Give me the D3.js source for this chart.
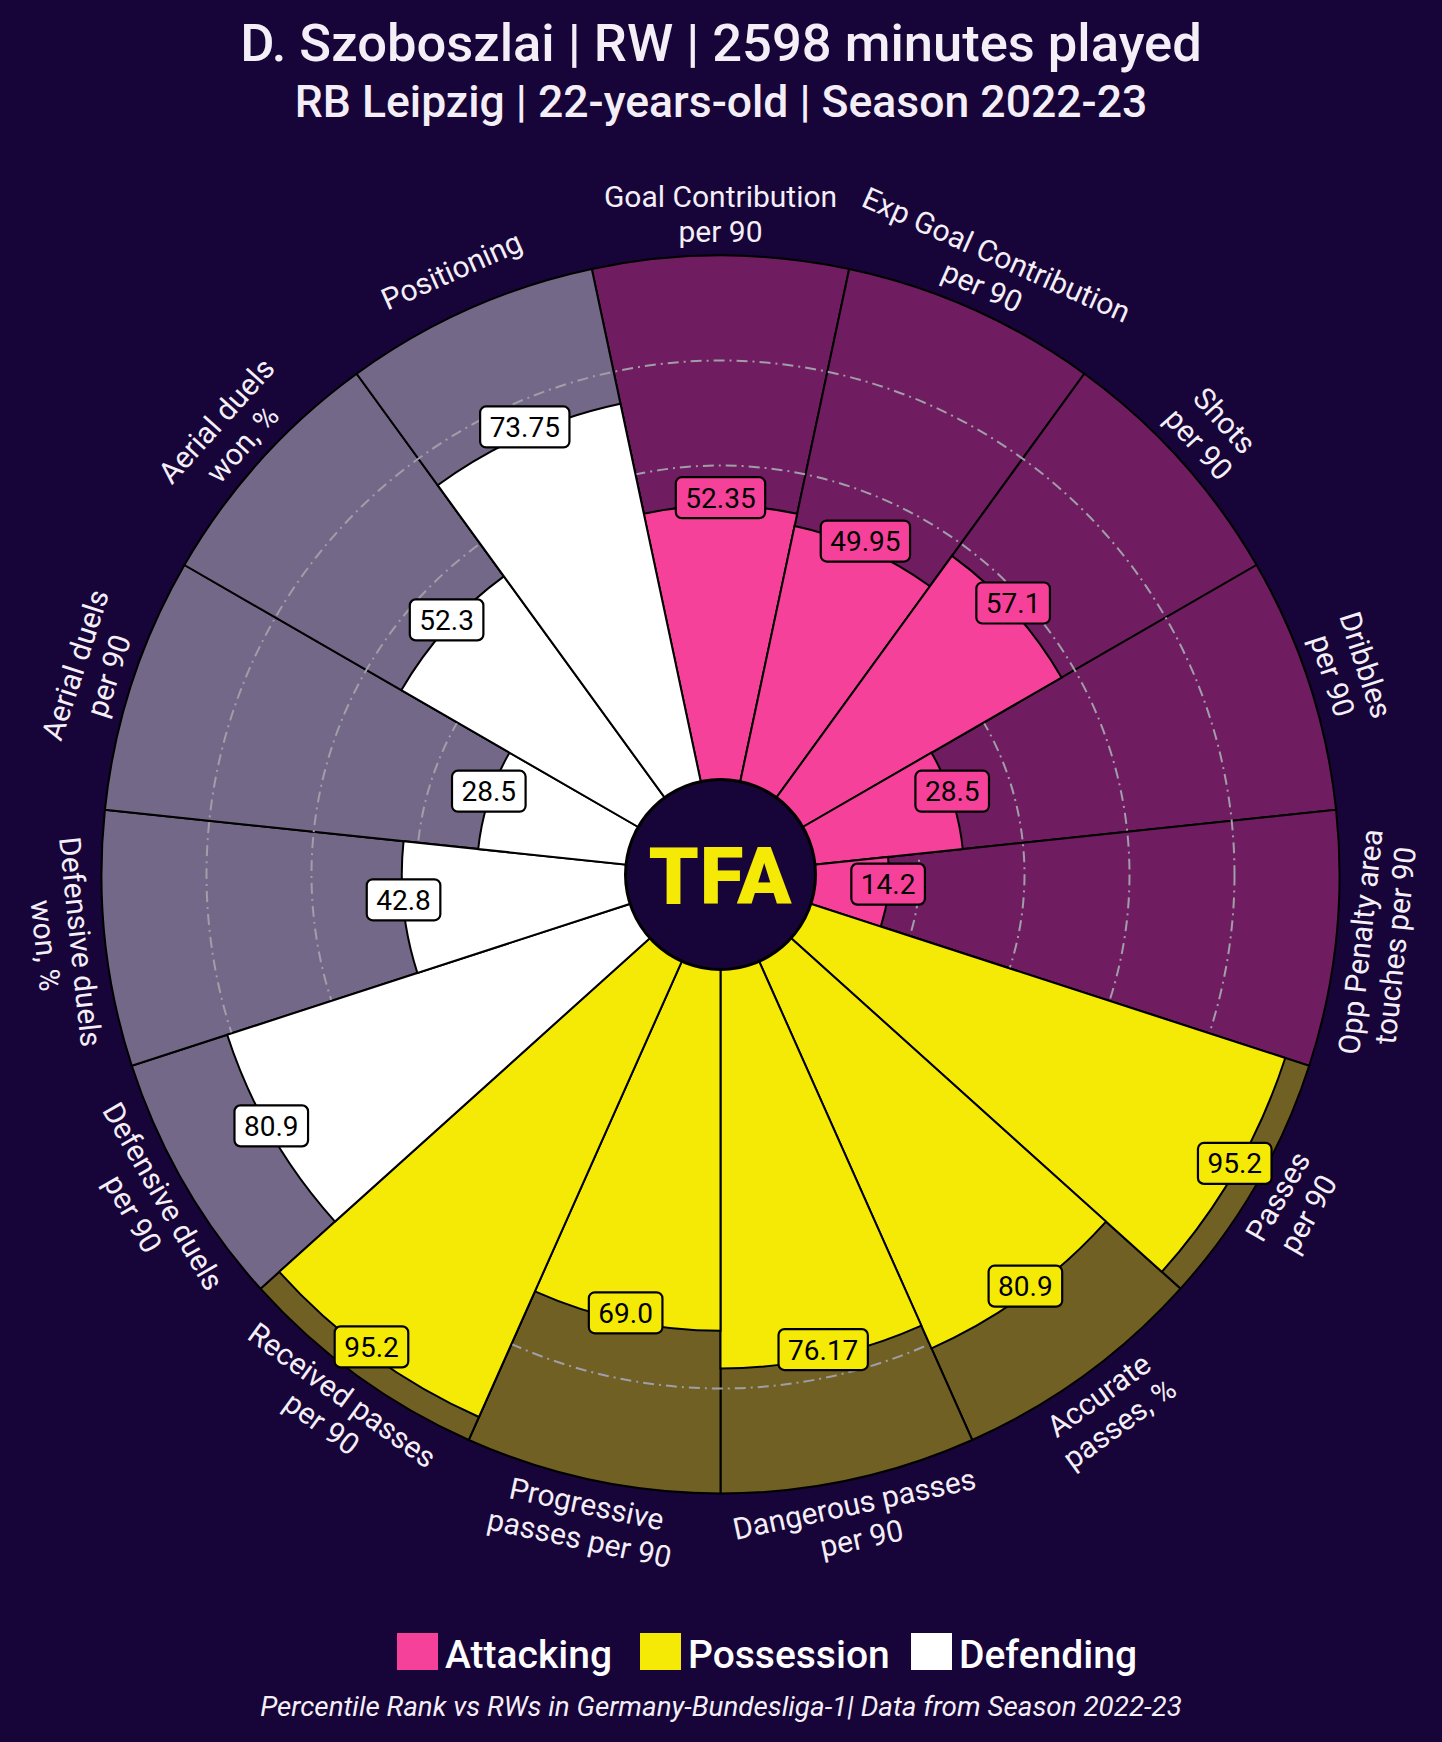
<!DOCTYPE html>
<html>
<head>
<meta charset="utf-8">
<script src="https://cdn.jsdelivr.net/npm/d3@7"></script>
<style>
  html, body { margin: 0; padding: 0; background: #170439; }
  svg { display: block; }
  text { font-family: Roboto, "Noto Sans", sans-serif; }
</style>
</head>
<body>
<svg id="chart" width="1442" height="1742"></svg>
<script>
// ---- data ----
const params = [
  "Goal Contribution\nper 90",
  "Exp Goal Contribution\nper 90",
  "Shots\nper 90",
  "Dribbles\nper 90",
  "Opp Penalty area\ntouches per 90",
  "Passes\nper 90",
  "Accurate\npasses, %",
  "Dangerous passes\nper 90",
  "Progressive\npasses per 90",
  "Received passes\nper 90",
  "Defensive duels\nper 90",
  "Defensive duels\nwon, %",
  "Aerial duels\nper 90",
  "Aerial duels\nwon, %",
  "Positioning"
];
const values = [52.35, 49.95, 57.1, 28.5, 14.2, 95.2, 80.9, 76.17, 69.0, 95.2, 80.9, 42.8, 28.5, 52.3, 73.75];
const valueLabels = ["52.35", "49.95", "57.1", "28.5", "14.2", "95.2", "80.9", "76.17", "69.0", "95.2", "80.9", "42.8", "28.5", "52.3", "73.75"];
const groups = ["Attacking", "Attacking", "Attacking", "Attacking", "Attacking",
  "Possession", "Possession", "Possession", "Possession", "Possession",
  "Defending", "Defending", "Defending", "Defending", "Defending"];
const groupNames = ["Attacking", "Possession", "Defending"];
const groupColors = ["#F5419A", "#F5EA05", "#FFFFFF"];
const gridValues = [20, 40, 60, 80];
const titleText = "D. Szoboszlai | RW | 2598 minutes played";
const subtitleText = "RB Leipzig | 22-years-old | Season 2022-23";
const footerText = "Percentile Rank vs RWs in Germany-Bundesliga-1| Data from Season 2022-23";

// ---- setup ----
const W = 1442, H = 1742;
const BG = "#170439";
const cx = 720.5, cy = 874.5;
const svg = d3.select("#chart");
svg.append("rect").attr("width", W).attr("height", H).attr("fill", BG);

const color = d3.scaleOrdinal().domain(groupNames).range(groupColors);
const r = d3.scaleLinear().domain([0, 100]).range([94, 619]);
const n = params.length;
const angle = d3.scaleLinear().domain([0, n]).range([0, 2 * Math.PI]);
const half = Math.PI / n;

const g = svg.append("g").attr("transform", `translate(${cx},${cy})`);

// background slices
const arcBg = d3.arc()
  .innerRadius(r(0)).outerRadius(r(100))
  .startAngle((d, i) => angle(i) - half).endAngle((d, i) => angle(i) + half);
g.selectAll("path.bg").data(values).join("path")
  .attr("class", "bg")
  .attr("d", arcBg)
  .attr("fill", (d, i) => d3.interpolateRgb(BG, color(groups[i]))(0.4))
  .attr("stroke", "#000").attr("stroke-width", 2);

// grid circles
g.selectAll("circle.grid").data(gridValues).join("circle")
  .attr("class", "grid")
  .attr("r", d => r(d))
  .attr("fill", "none")
  .attr("stroke", "#a09ea8")
  .attr("stroke-width", 2)
  .attr("stroke-dasharray", "11,5,2,5");

// bars
const arcBar = d3.arc()
  .innerRadius(r(0)).outerRadius(d => r(d))
  .startAngle((d, i) => angle(i) - half).endAngle((d, i) => angle(i) + half);
g.selectAll("path.bar").data(values).join("path")
  .attr("class", "bar")
  .attr("d", arcBar)
  .attr("fill", (d, i) => color(groups[i]))
  .attr("stroke", "#000").attr("stroke-width", 2);

// center circle + logo
g.append("circle").attr("r", 95).attr("fill", BG).attr("stroke", "#000").attr("stroke-width", 3);
g.append("text").attr("x", 0).attr("y", 29)
  .attr("text-anchor", "middle")
  .attr("font-size", 80).attr("font-weight", 900)
  .attr("fill", "#F5EA05")
  .attr("letter-spacing", 1)
  .text("TFA");

// value boxes
const vb = g.selectAll("g.vbox").data(values).join("g").attr("class", "vbox")
  .attr("transform", (d, i) => {
    const a = angle(i);
    return `translate(${r(d) * Math.sin(a)},${-r(d) * Math.cos(a) - 8})`;
  });
vb.each(function (d, i) {
  const sel = d3.select(this);
  const t = sel.append("text")
    .attr("text-anchor", "middle")
    .attr("y", 10)
    .attr("font-size", 28)
    .attr("fill", "#000")
    .text(valueLabels[i]);
  const w = t.node().getComputedTextLength() + 19;
  sel.insert("rect", "text")
    .attr("x", -w / 2).attr("y", -20.5)
    .attr("width", w).attr("height", 41)
    .attr("rx", 6)
    .attr("fill", color(groups[i]))
    .attr("stroke", "#000").attr("stroke-width", 2.2);
});

// parameter labels
const labelR = 661;
const lbl = g.selectAll("g.plabel").data(params).join("g").attr("class", "plabel")
  .attr("transform", (d, i) => {
    const a = angle(i);
    let deg = a * 180 / Math.PI;
    let rot = deg;
    if (deg > 90 && deg < 270) rot = deg - 180;
    else if (deg >= 270) rot = deg - 360;
    return `translate(${labelR * Math.sin(a)},${-labelR * Math.cos(a)}) rotate(${rot})`;
  });
lbl.each(function (d) {
  const lines = d.split("\n");
  const lh = 35;
  const t = d3.select(this).append("text")
    .attr("text-anchor", "middle")
    .attr("font-size", 30)
    .attr("fill", "#F4EEF6");
  lines.forEach((ln, k) => {
    t.append("tspan").attr("x", 0)
      .attr("y", (k - (lines.length - 1) / 2) * lh + 10.5)
      .text(ln);
  });
});

// titles
svg.append("text").attr("x", 721).attr("y", 61)
  .attr("text-anchor", "middle").attr("font-size", 52.5).attr("font-weight", 500)
  .attr("fill", "#F4EEF6").text(titleText);
svg.append("text").attr("x", 721).attr("y", 117)
  .attr("text-anchor", "middle").attr("font-size", 44.5).attr("font-weight", 500)
  .attr("fill", "#F4EEF6").text(subtitleText);

// legend
const legendX = [397, 640, 911];
const leg = svg.append("g");
groupNames.forEach((name, i) => {
  leg.append("rect").attr("x", legendX[i]).attr("y", 1633).attr("width", 41).attr("height", 37)
    .attr("fill", color(name));
  leg.append("text").attr("x", legendX[i] + 48).attr("y", 1668)
    .attr("font-size", 39).attr("font-weight", 500).attr("fill", "#FFFFFF").text(name);
});

// footer
svg.append("text").attr("x", 721).attr("y", 1716)
  .attr("text-anchor", "middle").attr("font-size", 27.8).attr("font-style", "italic")
  .attr("fill", "#F4EEF6").text(footerText);
</script>
</body>
</html>
